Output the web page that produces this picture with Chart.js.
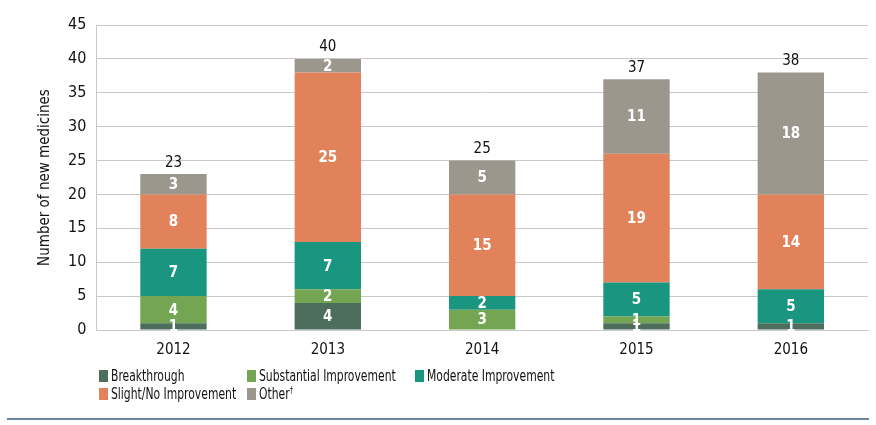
<!DOCTYPE html>
<html>
<head>
<meta charset="utf-8">
<script src="https://cdn.jsdelivr.net/npm/chart.js@4.4.0/dist/chart.umd.min.js"></script>
<style>
  body { margin: 0; background: #fff; }
  #wrap { position: relative; width: 876px; height: 425px; }
  #legend { position: absolute; left: 99px; top: 367px; width: 700px;
            font-family: "DejaVu Sans Condensed", Roboto, sans-serif;
            font-size: 15px; color: #111; }
  .item { position: absolute; white-space: nowrap; line-height: 18px; }
  .sw { display: inline-block; width: 9px; height: 12px; margin-right: 3px; vertical-align: -1px; }
  .txt { display: inline-block; transform: scaleX(0.8); transform-origin: left center; }
  .dag { font-size: 9px; position: relative; top: -6px; line-height: 0; }
  #rule { position: absolute; left: 7px; top: 418px; width: 862px; height: 2px; background: #6a84a0; }
</style>
</head>
<body>
<div id="wrap">
  <canvas id="chart" width="876" height="425"></canvas>
  <div id="legend"></div>
  <div id="rule"></div>
</div>
<script>
const FONT = '"DejaVu Sans Condensed", Roboto, sans-serif';

// Data
const years = ['2012', '2013', '2014', '2015', '2016'];
const breakthrough = [1, 4, 0, 1, 1];
const substantial = [4, 2, 3, 1, 0];
const moderate = [7, 7, 2, 5, 5];
const slight = [8, 25, 15, 19, 14];
const other = [3, 2, 5, 11, 18];

const seriesNames = ['Breakthrough', 'Substantial Improvement', 'Moderate Improvement', 'Slight/No Improvement', 'Other\u2020'];
const seriesColors = ['#4e6e5d', '#74a552', '#1a9580', '#e2825a', '#9b978c'];
const seriesData = [breakthrough, substantial, moderate, slight, other];

// legend positions (3 columns, 2 rows)
const legendPos = [[0, 0], [148, 0], [316, 0], [0, 18], [148, 18]];

// Draw segment values and totals
const valueLabels = {
    id: 'valueLabels',
    afterDatasetsDraw(chart) {
        const ctx = chart.ctx;
        ctx.save();
        ctx.textAlign = 'center';
        ctx.textBaseline = 'middle';
        ctx.font = 'bold 15px ' + FONT;
        ctx.fillStyle = '#fff';
        chart.data.datasets.forEach((ds, i) => {
            const meta = chart.getDatasetMeta(i);
            meta.data.forEach((bar, j) => {
                const v = ds.data[j];
                if (!v) return;
                const mid = (bar.y + bar.base) / 2;
                ctx.fillText(v, bar.x, mid + 1);
            });
        });
        // totals
        ctx.font = '15px ' + FONT;
        ctx.fillStyle = '#111';
        ctx.textBaseline = 'bottom';
        const last = chart.getDatasetMeta(chart.data.datasets.length - 1);
        years.forEach((y, j) => {
            let total = 0;
            seriesData.forEach(s => total += s[j]);
            const yPix = chart.scales.y.getPixelForValue(total);
            ctx.fillText(total, last.data[j].x, yPix - 4);
        });
        ctx.restore();
    }
};

const ctx = document.getElementById('chart').getContext('2d');
new Chart(ctx, {
    type: 'bar',
    data: {
        labels: years,
        datasets: seriesNames.map((name, i) => ({
            label: name,
            data: seriesData[i],
            backgroundColor: seriesColors[i],
            borderWidth: 0,
            barPercentage: 0.43,
            categoryPercentage: 1.0
        }))
    },
    options: {
        responsive: false,
        animation: false,
        layout: { padding: { left: 32, right: 8, top: 25, bottom: 63 } },
        plugins: {
            legend: { display: false },
            tooltip: { enabled: false }
        },
        scales: {
            x: {
                stacked: true,
                grid: { display: false },
                border: { color: '#c8c8c8' },
                ticks: { color: '#111', font: { family: FONT, size: 15 }, padding: 3 }
            },
            y: {
                stacked: true,
                min: 0,
                max: 45,
                ticks: { stepSize: 5, color: '#111', font: { family: FONT, size: 16 }, padding: 10 },
                grid: { color: '#c8c8c8', drawTicks: false },
                border: { color: '#c8c8c8' },
                title: { display: true, text: 'Number of new medicines', color: '#111',
                         font: { family: FONT, size: 15 }, padding: 4 }
            }
        }
    },
    plugins: [valueLabels]
});

// HTML legend
const legend = document.getElementById('legend');
seriesNames.forEach((name, i) => {
    const el = document.createElement('div');
    el.className = 'item';
    el.style.left = legendPos[i][0] + 'px';
    el.style.top = legendPos[i][1] + 'px';
    el.innerHTML = '<span class="sw" style="background:' + seriesColors[i] + '"></span>' +
        '<span class="txt">' + name.replace('\u2020', '<span class="dag">\u2020</span>') + '</span>';
    legend.appendChild(el);
});
</script>
</body>
</html>
